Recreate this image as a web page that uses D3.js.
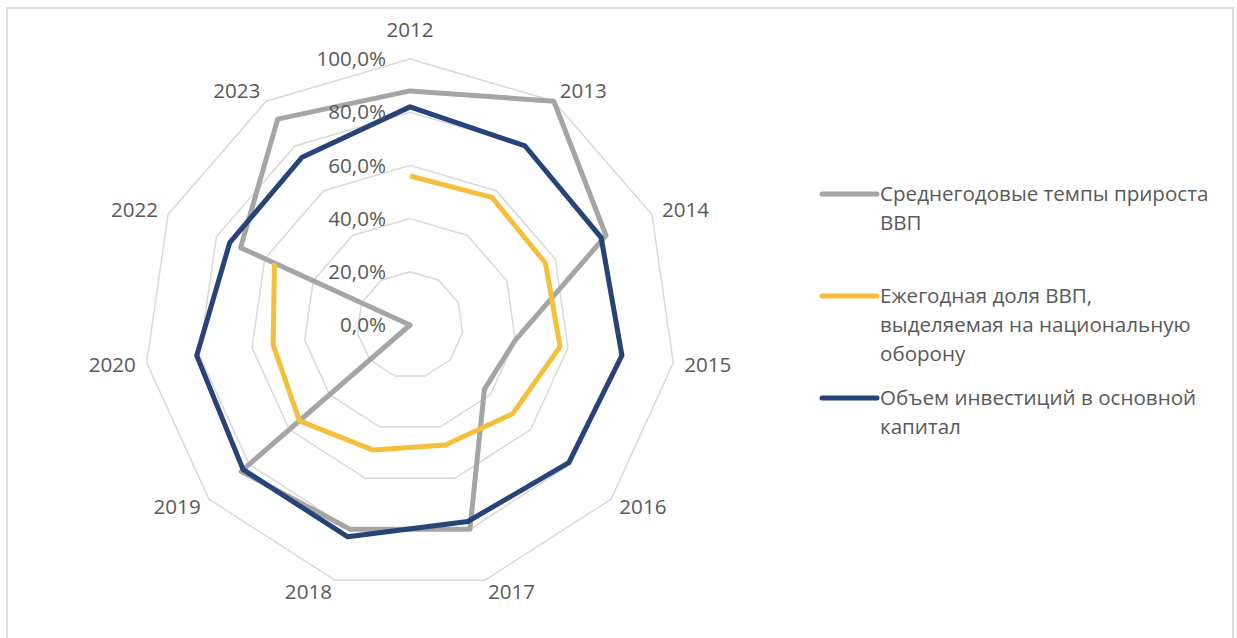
<!DOCTYPE html>
<html>
<head>
<meta charset="utf-8">
<script src="https://cdn.jsdelivr.net/npm/d3@7"></script>
<style>
  body { margin: 0; background: #fff; }
  text { font-family: "Open Sans", sans-serif; fill: #595959; }
</style>
</head>
<body>
<div id="chart"></div>
<script>
var years = ['2012', '2013', '2014', '2015', '2016', '2017', '2018', '2019', '2020', '2022', '2023'];
var ticks = [0, 0.2, 0.4, 0.6, 0.8, 1.0];

var gdpGrowth = [0.88, 1.00, 0.81, 0.40, 0.37, 0.80, 0.80, 0.84, 0.00, 0.70, 0.92];
var defenceShare = [0.56, 0.57, 0.56, 0.57, 0.51, 0.47, 0.49, 0.55, 0.52, 0.56, null];
var investment = [0.82, 0.80, 0.79, 0.805, 0.79, 0.77, 0.83, 0.83, 0.81, 0.745, 0.75];

var seriesNames = [
  ['Среднегодовые темпы прироста', 'ВВП'],
  ['Ежегодная доля ВВП,', 'выделяемая на национальную', 'оборону'],
  ['Объем инвестиций в основной', 'капитал']
];

var width = 1237;
var height = 638;
var cx = 410;
var cy = 325;
var radius = 266;
var fontSize = '20.6px';

var colors = ['#a5a5a5', '#f4c03c', '#264478'];

document.addEventListener('DOMContentLoaded', init, false);

function init() {

  var svg = d3.select('#chart')
    .append('svg')
      .attr('width', width)
      .attr('height', height);

  // chart frame
  svg.append('path')
    .attr('d', 'M7,' + height + 'V8H1233V' + height)
    .attr('fill', 'none')
    .attr('stroke', '#dedede')
    .attr('stroke-width', 2);

  var chart = svg.append('g')
    .attr('transform', 'translate(' + cx + ',' + cy + ')');

  var r = d3.scaleLinear().domain([0, 1]).range([0, radius]);
  var angle = d3.scaleLinear().domain([0, years.length]).range([0, 2 * Math.PI]);

  // grid rings
  var ring = d3.lineRadial()
    .angle(function (d, i) { return angle(i); })
    .radius(function (d) { return r(d); })
    .curve(d3.curveLinearClosed);

  chart.selectAll('.grid')
      .data(ticks.slice(1))
      .enter()
    .append('path')
      .attr('fill', 'none')
      .attr('stroke', '#d9d9d9')
      .attr('stroke-width', 1.5)
      .attr('d', function (t) { return ring(years.map(function () { return t; })); });

  // series
  var data = [gdpGrowth, defenceShare, investment];

  data.forEach(function (values, k) {
    var closed = values.every(function (v) { return v !== null; });
    var line = d3.lineRadial()
      .defined(function (d) { return d !== null; })
      .angle(function (d, i) { return angle(i); })
      .radius(function (d) { return r(d); })
      .curve(closed ? d3.curveLinearClosed : d3.curveLinear);

    chart.append('path')
      .attr('fill', 'none')
      .attr('stroke', colors[k])
      .attr('stroke-width', 5)
      .attr('stroke-linejoin', 'round')
      .attr('d', line(values));
  });

  // value axis labels
  chart.selectAll('.tick-label')
      .data(ticks)
      .enter()
    .append('text')
      .attr('x', -24)
      .attr('y', function (t) { return -r(t); })
      .attr('dy', '0.35em')
      .style('text-anchor', 'end')
      .style('font-size', fontSize)
      .text(function (t) { return d3.format('.1f')(t * 100).replace('.', ',') + '%'; });

  // category labels
  chart.selectAll('.cat-label')
      .data(years)
      .enter()
    .append('text')
      .attr('x', function (d, i) { return (radius + 11) * Math.sin(angle(i)); })
      .attr('y', function (d, i) {
        var s = Math.sin(angle(i)), c = Math.cos(angle(i));
        var y = -(radius + 12) * c;
        return Math.abs(s) < 0.1 ? y - c * 17 : y;
      })
      .attr('dy', '0.35em')
      .style('font-size', fontSize)
      .style('text-anchor', function (d, i) {
        var s = Math.sin(angle(i));
        return s > 0.1 ? 'start' : (s < -0.1 ? 'end' : 'middle');
      })
      .text(function (d) { return d; });

  // legend
  var legendY = [194, 296, 398];
  var legend = svg.selectAll('.legend')
      .data(seriesNames)
      .enter()
    .append('g')
      .attr('transform', function (d, i) { return 'translate(822,' + legendY[i] + ')'; });

  legend.append('line')
    .attr('x1', 0)
    .attr('x2', 55)
    .attr('stroke', function (d, i) { return colors[i]; })
    .attr('stroke-width', 5)
    .attr('stroke-linecap', 'round');

  legend.append('text')
    .style('font-size', fontSize)
    .selectAll('tspan')
      .data(function (d) { return d; })
      .enter()
    .append('tspan')
      .attr('x', 58)
      .attr('y', function (d, i) { return i * 29; })
      .attr('dy', '0.35em')
      .text(function (d) { return d; });
}
</script>
</body>
</html>
